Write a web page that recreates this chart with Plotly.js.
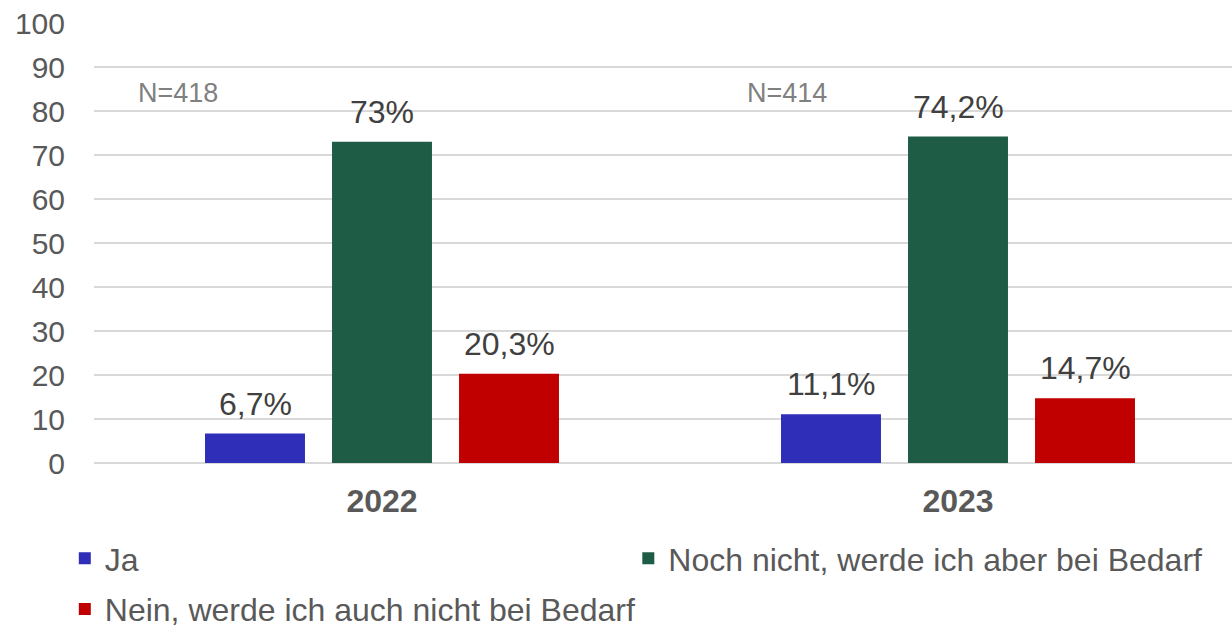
<!DOCTYPE html>
<html><head><meta charset="utf-8">
<script src="https://cdn.plot.ly/plotly-3.0.1.min.js"></script>
<style>html,body{margin:0;padding:0;background:#fff}#chart{width:1232px;height:627px}</style>
</head><body><div id="chart"></div>
<script>
const years = ["2022", "2023"];
const seriesNames = ["Ja", "Noch nicht, werde ich aber bei Bedarf", "Nein, werde ich auch nicht bei Bedarf"];
const ja = [6.7, 11.1];
const nochNicht = [73, 74.2];
const nein = [20.3, 14.7];
const sampleLabels = ["N=418", "N=414"];
const colors = ["#2E2EB8", "#1F5C45", "#C00000"];
const fontFam = "Liberation Sans, Arial, sans-serif";
const fmt = v => String(v).replace('.', ',') + '%';
const allVals = [ja, nochNicht, nein];
const legendIds = ['legend', 'legend2', 'legend'];
const traces = allVals.map((vals, i) => ({
  type: 'bar', x: years, y: vals, name: seriesNames[i],
  marker: {color: colors[i]}, legend: legendIds[i], legendgroup: 'g' + i,
  hoverinfo: 'none'
}));
const valueAnnotations = [];
allVals.forEach((vals, i) => vals.forEach((v, j) => valueAnnotations.push({
  text: fmt(v), x: j, y: v, xref: 'x', yref: 'y', xshift: (i - 1) * 127,
  yanchor: 'bottom', yshift: 10, showarrow: false,
  font: {size: 32, color: '#404040', family: fontFam}
})));
const legendFont = {size: 32, color: '#595959', family: fontFam};
const layout = {
  width: 1232, height: 627,
  margin: {l: 94, r: 0, t: 23, b: 164, autoexpand: false},
  paper_bgcolor: '#fff', plot_bgcolor: '#fff',
  font: {family: fontFam, color: '#595959'},
  barmode: 'group', bargap: 0.3385, bargroupgap: 0.213,
  xaxis: {type: 'category', range: [-0.5, 1.4757], showgrid: false, zeroline: false,
    showline: false, ticks: '', tickfont: {size: 32, color: '#595959', family: fontFam, weight: 'bold'},
    ticklabelstandoff: 16, automargin: false},
  yaxis: {range: [0, 100], dtick: 10, showgrid: true, gridcolor: '#D9D9D9', gridwidth: 1.5,
    zeroline: true, zerolinecolor: '#D9D9D9', zerolinewidth: 1.5, showline: false, ticks: '',
    tickfont: {size: 30, color: '#595959', family: fontFam}, ticklabelstandoff: 28, automargin: false},
  showlegend: true,
  legend: {orientation: 'v', xref: 'container', yref: 'container', x: 0.0526, y: 0.153, yanchor: 'top',
    xanchor: 'left', font: legendFont, tracegroupgap: 6, traceorder: 'grouped', itemclick: false},
  legend2: {orientation: 'v', xref: 'container', yref: 'container', x: 0.510, y: 0.153, yanchor: 'top',
    xanchor: 'left', font: legendFont, itemclick: false},
  annotations: sampleLabels.map((t, i) => ({
    text: t, x: i === 0 ? -0.354 : 0.703, y: 84.1, xref: 'x', yref: 'y', showarrow: false,
    font: {size: 27, color: '#808080', family: fontFam}
  })).concat(valueAnnotations)
};
Plotly.newPlot('chart', traces, layout, {displayModeBar: false, staticPlot: true});
</script></body></html>
